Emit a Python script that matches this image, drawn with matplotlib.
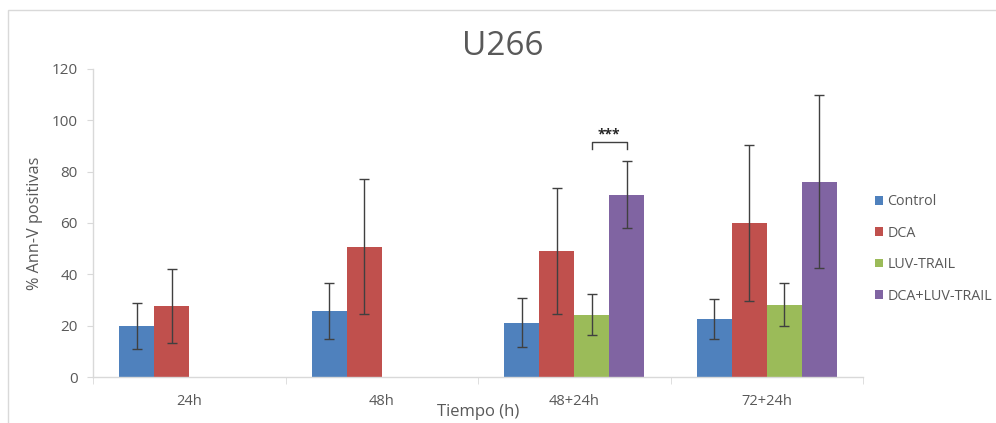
import matplotlib
matplotlib.use("Agg")
import matplotlib.pyplot as plt
import numpy as np
from matplotlib.patches import Rectangle

plt.rcParams['font.family'] = ['Open Sans', 'DejaVu Sans']

categories = ["24h", "48h", "48+24h", "72+24h"]
series = ["Control", "DCA", "LUV-TRAIL", "DCA+LUV-TRAIL"]
colors = ["#4F81BD", "#C0504D", "#9BBB59", "#8064A2"]

control = [20.0, 25.7, 21.1, 22.6]
control_err = [9.0, 11.0, 9.5, 7.8]
dca = [27.6, 50.7, 49.1, 59.9]
dca_err = [14.4, 26.3, 24.7, 30.3]
luv = [np.nan, np.nan, 24.3, 28.2]
luv_err = [np.nan, np.nan, 8.1, 8.3]
combo = [np.nan, np.nan, 71.0, 76.1]
combo_err = [np.nan, np.nan, 13.0, 33.8]

values = [control, dca, luv, combo]
errors = [control_err, dca_err, luv_err, combo_err]

sig_y = 91.5
sig_label = "***"

W, H = 996, 423
fig = plt.figure(figsize=(W / 100, H / 100), dpi=100)
fig.patch.set_facecolor("white")
fig.patches.append(Rectangle((8 / W, -0.1), 1.2, (H - 10) / H + 0.1, transform=fig.transFigure,
                             fill=False, edgecolor="#D9D9D9", linewidth=1.0))

ax = fig.add_axes([93 / W, 46 / H, 770 / W, 308 / H])
x = np.arange(len(categories))
w = 0.182
offsets = [-1.5 * w, -0.5 * w, 0.5 * w, 1.5 * w]
txt = "#595959"

for vals, errs, col, off, name in zip(values, errors, colors, offsets, series):
    v = np.array(vals, dtype=float)
    e = np.array(errs, dtype=float)
    ax.bar(x + off, np.nan_to_num(v), width=w, color=col, label=name, zorder=2)
    m = ~np.isnan(v)
    ax.errorbar(x[m] + off, v[m], yerr=e[m], fmt="none", ecolor="#404040",
                elinewidth=1.0, capsize=3.5, capthick=1.0, zorder=3)

# significance bracket between LUV-TRAIL and DCA+LUV-TRAIL at 48+24h
x1, x2 = x[2] + offsets[2], x[2] + offsets[3]
ax.plot([x1, x1, x2, x2], [sig_y - 2.8, sig_y, sig_y, sig_y - 2.8], color="#404040", lw=1.0, zorder=4)
ax.text((x1 + x2) / 2, sig_y + 0.3, sig_label, ha="center", va="bottom", fontsize=10,
        color="#262626", fontweight="bold")

ax.set_xlim(-0.5, 3.5)
ax.set_ylim(0, 120)
ax.set_yticks(np.arange(0, 121, 20))
ax.set_xticks(x)
ax.set_xticklabels(categories)
ax.set_xticks(np.arange(-0.5, 3.6, 1), minor=True)
ax.tick_params(axis="x", which="major", length=0, pad=12, labelsize=10.5, labelcolor=txt)
ax.tick_params(axis="x", which="minor", length=5, color="#D9D9D9", direction="out")
ax.tick_params(axis="y", length=4, color="#D9D9D9", labelsize=11, labelcolor=txt, pad=7)

for s in ["top", "right"]:
    ax.spines[s].set_visible(False)
for s in ["left", "bottom"]:
    ax.spines[s].set_color("#D9D9D9")
    ax.spines[s].set_linewidth(1.0)

ax.set_ylabel("% Ann-V positivas", fontsize=11.7, color=txt)
ax.yaxis.set_label_coords(-0.065, 0.5)
ax.set_xlabel("Tiempo (h)", fontsize=12, color=txt)
ax.xaxis.set_label_coords(0.5, -0.088)

fig.text(0.505, 0.889, "U266", ha="center", va="center", fontsize=24, color=txt)

leg = fig.legend(loc="center left", bbox_to_anchor=(875 / W, (H - 249) / H), frameon=False,
                 handlelength=0.55, handleheight=0.55, handletextpad=0.3, labelspacing=1.15,
                 borderpad=0, borderaxespad=0, fontsize=10.3)
for t in leg.get_texts():
    t.set_color(txt)

fig.savefig("out.png", dpi=100)
